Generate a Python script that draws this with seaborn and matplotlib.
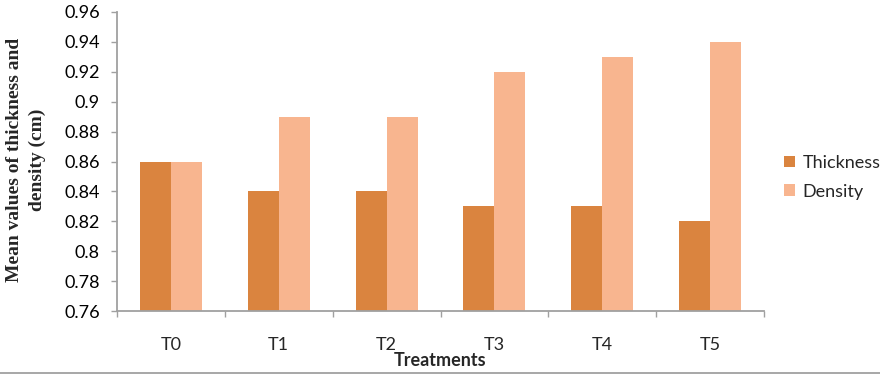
import matplotlib
matplotlib.use("Agg")
import matplotlib.pyplot as plt
from matplotlib.lines import Line2D
from matplotlib.ticker import FixedLocator, FuncFormatter
import seaborn as sns
import pandas as pd
import numpy as np

treatments = ["T0", "T1", "T2", "T3", "T4", "T5"]
thickness = [0.86, 0.84, 0.84, 0.83, 0.83, 0.82]
density = [0.86, 0.89, 0.89, 0.92, 0.93, 0.94]
series_names = ["Thickness", "Density"]
colors = ["#DA843F", "#F8B58F"]
yticks = [0.76, 0.78, 0.80, 0.82, 0.84, 0.86, 0.88, 0.90, 0.92, 0.94, 0.96]
ylabel_lines = ["Mean values of thickness and", "density (cm)"]

df = pd.DataFrame({
    "Treatment": treatments * 2,
    "value": thickness + density,
    "Series": [series_names[0]] * len(treatments) + [series_names[1]] * len(treatments),
})

sns.set_style("white")
plt.rcParams["font.family"] = ["Lato", "DejaVu Sans"]

W, H = 880, 374
fig = plt.figure(figsize=(W / 100, H / 100), dpi=100)
ax = fig.add_axes([117 / W, 1 - 311 / H, (764 - 117) / W, (311 - 12) / H])

sns.barplot(data=df, x="Treatment", y="value", hue="Series", palette=colors,
            width=0.575, saturation=1, ax=ax, errorbar=None, legend=True,
            linewidth=0)

gray = "#A0A0A0"
ax.set_ylim(0.76, 0.96)
ax.set_xlim(-0.5, len(treatments) - 0.5)
ax.set_yticks(yticks)
ax.yaxis.set_major_formatter(FuncFormatter(lambda v, p: f"{round(v, 2):g}"))
for s in ["top", "right"]:
    ax.spines[s].set_visible(False)
for s in ["left", "bottom"]:
    ax.spines[s].set_color(gray)
    ax.spines[s].set_linewidth(1.3)

ax.tick_params(axis="y", direction="out", length=4.5, width=1, color=gray,
               labelsize=13, pad=8, left=True, labelcolor="black")
ax.xaxis.set_minor_locator(FixedLocator(np.arange(-0.5, len(treatments), 1.0)))
ax.tick_params(axis="x", which="major", length=0, pad=19, labelsize=13)
ax.tick_params(axis="x", which="minor", direction="out", length=4.5, width=1,
               color=gray, bottom=True)

ax.set_xlabel("Treatments", fontsize=13, fontweight="bold", va="center")
ax.xaxis.set_label_coords(0.5, (311 - 361) / 299)
ax.set_ylabel("")
for line, xpx in zip(ylabel_lines, [15, 37]):
    fig.text(xpx / W, 1 - 160 / H, line, rotation=90, ha="center", va="center",
             fontsize=14, fontweight="bold",
             family=["Liberation Serif", "DejaVu Serif"])

handles, labels = ax.get_legend_handles_labels()
ax.legend(handles, labels, loc="upper left",
          bbox_to_anchor=(784 / W, 1 - 155 / H), bbox_transform=fig.transFigure,
          frameon=False, fontsize=13, handlelength=0.62, handleheight=0.62,
          handletextpad=0.4, labelspacing=0.7, borderpad=0, borderaxespad=0)

fig.add_artist(Line2D([0, 1], [1 - 372.5 / H, 1 - 372.5 / H],
                      transform=fig.transFigure, color=gray, lw=1.3))

fig.savefig("out.png", dpi=100)
